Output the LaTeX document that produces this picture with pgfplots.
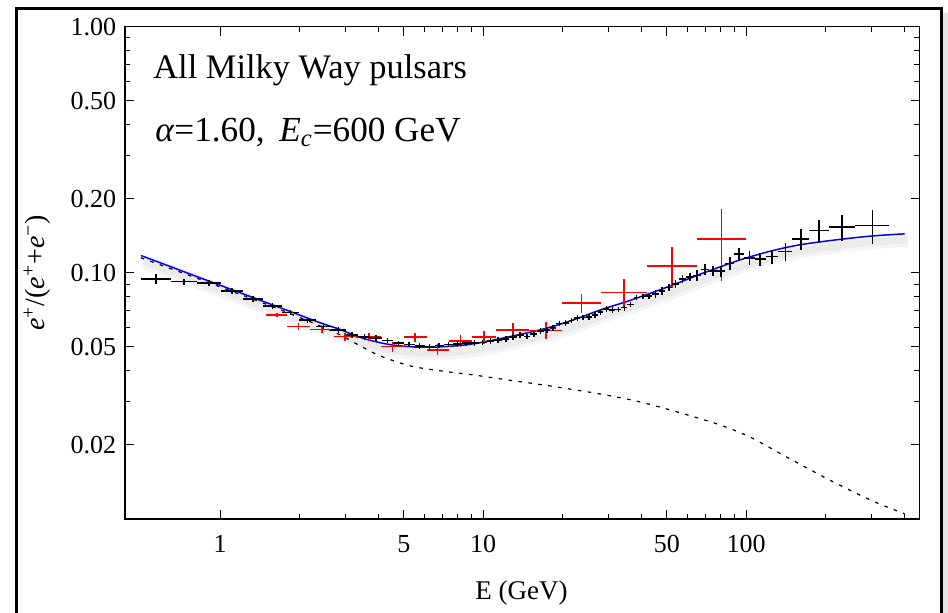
\documentclass[border=0pt]{standalone}
\usepackage{fontspec}
\setmainfont{Liberation Serif}
\usepackage{pgfplots}
\usepackage{pgfplotstable}
\pgfplotsset{compat=1.18}

% total model (secondaries + pulsars)
\pgfplotstableread{
x y
0.5 0.1176
0.645 0.1062
0.839 0.0955
1.092 0.0860
1.42 0.0774
1.846 0.0697
2.40 0.0627
2.86 0.0589
3.20 0.0560
3.72 0.0532
4.43 0.0511
5.42 0.0500
6.46 0.0499
7.83 0.0505
9.32 0.0516
11.3 0.0537
13.8 0.0562
16.5 0.0587
19.6 0.0618
23.4 0.0659
27.9 0.0707
35.3 0.0766
43.2 0.0826
52.8 0.0894
69.9 0.1005
94.9 0.1129
123 0.1223
160 0.1300
228 0.1368
304 0.1413
400 0.1440
}\total

% secondary background only
\pgfplotstableread{
x y
0.5 0.1151
0.645 0.1043
0.839 0.0941
1.092 0.0847
1.42 0.0762
1.846 0.0683
2.40 0.0609
2.86 0.0560
3.41 0.0505
4.06 0.0460
5.28 0.0419
6.86 0.0400
9.16 0.0385
11.6 0.0371
18.0 0.0347
27.9 0.0322
39.5 0.0299
56.1 0.0270
79.6 0.0241
103.6 0.0215
141.9 0.0179
205 0.0145
299 0.0119
400 0.0105
}\secondary

% PAMELA
\pgfplotstableread{
x lo hi y ey
1.643 1.5 1.8 0.0675 0.0015
1.990 1.8 2.2 0.0605 0.0019
2.437 2.2 2.7 0.0588 0.0020
2.985 2.7 3.3 0.0551 0.0021
3.683 3.3 4.1 0.0548 0.0021
4.528 4.1 5.0 0.0502 0.0024
5.523 5.0 6.1 0.0548 0.0023
6.716 6.1 7.4 0.0487 0.0025
8.206 7.4 9.1 0.0529 0.0030
10.10 9.1 11.2 0.0548 0.0035
12.96 11.2 15.0 0.0587 0.0039
17.32 15.0 20.0 0.0584 0.0046
23.66 20.0 28.0 0.0753 0.0064
34.29 28.0 42.0 0.0832 0.0115
52.25 42.0 65.0 0.1068 0.0200
80.62 65.0 100.0 0.1375 0.0450
}\pamela

% AMS-02
\pgfplotstableread{
x lo hi y ey
0.570 0.50 0.65 0.0945 0.0047
0.730 0.65 0.82 0.0922 0.0026
0.910 0.82 1.01 0.0908 0.0024
1.110 1.01 1.22 0.0845 0.0022
1.335 1.22 1.46 0.0784 0.0020
1.585 1.46 1.72 0.0734 0.0019
1.855 1.72 2.00 0.0690 0.0018
2.149 2.00 2.31 0.0644 0.0017
2.474 2.31 2.65 0.0605 0.0016
2.820 2.65 3.00 0.0587 0.0015
3.175 3.00 3.36 0.0560 0.0015
3.540 3.36 3.73 0.0549 0.0014
3.920 3.73 4.12 0.0543 0.0014
4.325 4.12 4.54 0.0532 0.0014
4.764 4.54 5.00 0.0518 0.0013
5.239 5.00 5.49 0.0511 0.0013
5.739 5.49 6.00 0.0505 0.0013
6.264 6.00 6.54 0.0502 0.0013
6.814 6.54 7.10 0.0506 0.0013
7.389 7.10 7.69 0.0511 0.0013
7.989 7.69 8.30 0.0515 0.0013
8.619 8.30 8.95 0.0518 0.0013
9.279 8.95 9.62 0.0519 0.0013
9.964 9.62 10.32 0.0522 0.0014
10.67 10.32 11.04 0.0528 0.0014
11.41 11.04 11.80 0.0533 0.0014
12.19 11.80 12.59 0.0539 0.0014
12.99 12.59 13.41 0.0548 0.0014
13.82 13.41 14.25 0.0558 0.0015
14.69 14.25 15.14 0.0552 0.0014
15.59 15.14 16.05 0.0564 0.0015
16.52 16.05 17.00 0.0580 0.0015
17.48 17.00 17.98 0.0586 0.0015
18.48 17.98 18.99 0.0596 0.0016
19.51 18.99 20.04 0.0623 0.0016
20.58 20.04 21.13 0.0625 0.0016
21.68 21.13 22.25 0.0640 0.0017
22.83 22.25 23.42 0.0656 0.0017
24.01 23.42 24.62 0.0658 0.0017
25.25 24.62 25.90 0.0661 0.0017
26.57 25.90 27.25 0.0673 0.0018
27.95 27.25 28.68 0.0693 0.0018
29.43 28.68 30.21 0.0712 0.0019
31.00 30.21 31.82 0.0707 0.0018
32.67 31.82 33.53 0.0709 0.0018
34.43 33.53 35.36 0.0722 0.0019
36.32 35.36 37.31 0.0743 0.0019
38.34 37.31 39.39 0.0795 0.0021
40.49 39.39 41.61 0.0801 0.0021
42.79 41.61 44.00 0.0803 0.0021
45.27 44.00 46.57 0.0821 0.0029
47.94 46.57 49.33 0.0846 0.0030
50.81 49.33 52.33 0.0873 0.0031
53.93 52.33 55.58 0.0902 0.0032
57.33 55.58 59.13 0.0946 0.0033
61.05 59.13 63.02 0.0960 0.0034
65.13 63.02 67.30 0.0974 0.0049
69.64 67.30 72.05 0.1030 0.0052
74.66 72.05 77.36 0.1020 0.0051
80.31 77.36 83.36 0.1015 0.0051
86.71 83.36 90.19 0.1092 0.0066
94.09 90.19 98.15 0.1190 0.0071
102.8 98.15 107.6 0.1150 0.0075
113.1 107.6 118.8 0.1137 0.0070
125.5 118.8 132.6 0.1163 0.0080
141.0 132.6 150.0 0.1221 0.0105
161.4 150.0 173.6 0.1371 0.0130
189.2 173.6 206.3 0.1486 0.0150
231.6 206.3 260.0 0.1534 0.0190
301.7 260.0 350.0 0.1557 0.0250
}\ams

\begin{document}
\begin{tikzpicture}
\useasboundingbox (-62.6pt,-47pt) rectangle (411.4pt,259.5pt);
% outer frame, open at the bottom
\fill[black!10] (408.8pt,-47pt) rectangle (411.4pt,253pt);
\draw[line width=1.3pt] (-54.35pt,-47pt) -- (-54.35pt,255.25pt) -- (408.15pt,255.25pt) -- (408.15pt,-47pt);
\begin{axis}[at={(0pt,0pt)}, anchor=south west, scale only axis,
  width=397.15pt, height=246.15pt,
  xmode=log, ymode=log, xmin=0.436, xmax=456, ymin=0.01, ymax=1,
  axis line style={line width=0.7pt},
  xtick={1,5,10,50,100}, xticklabels={1,5,10,50,100},
  minor xtick={2,3,4,6,7,8,9,20,30,40,60,70,80,90,200,300,400},
  ytick={0.02,0.05,0.1,0.2,0.5,1},
  yticklabels={0.02,0.05,0.10,0.20,0.50,1.00},
  minor ytick={0.03,0.04,0.06,0.07,0.08,0.09,0.3,0.4,0.6,0.7,0.8,0.9},
  major tick length=4.5pt, minor tick length=2.6pt,
  tick style={black, line width=0.5pt},
  ticklabel style={font=\fontsize{13}{13}\selectfont},
  yticklabel style={xshift=-1pt},
  xticklabel style={yshift=-4.5pt},
  clip=true]
  % soft shadow under the model curve
  \addplot[black, opacity=0.04, line width=7pt, xshift=1.5pt, yshift=-3pt, smooth] table {\total};
  \addplot[black, opacity=0.04, line width=3.5pt, xshift=1.5pt, yshift=-3pt, smooth] table {\total};
  \addplot[black, line width=0.6pt, dash pattern=on 1.8pt off 3.2pt, smooth] table {\secondary};
  \addplot[blue, line width=0.75pt, smooth] table {\total};
  \addplot[draw=none, mark=none,
    error bars/.cd, x dir=both, x explicit, y dir=both, y explicit,
    error mark=none, error bar style={draw=red, solid, line width=0.8pt}]
    table[x=x, y=y, x error plus expr=\thisrow{hi}-\thisrow{x},
      x error minus expr=\thisrow{x}-\thisrow{lo}, y error=ey] {\pamela};
  \addplot[draw=none, mark=none,
    error bars/.cd, x dir=both, x explicit, y dir=both, y explicit,
    error mark=none, error bar style={draw=black, solid, line width=0.8pt}]
    table[x=x, y=y, x error plus expr=\thisrow{hi}-\thisrow{x},
      x error minus expr=\thisrow{x}-\thisrow{lo}, y error=ey] {\ams};
\end{axis}
\node[anchor=base west, inner sep=0pt, font=\fontsize{17.2}{20}\selectfont] at (13.9pt,220.3pt) {All Milky Way pulsars};
\node[anchor=base west, inner sep=0pt, font=\fontsize{17.6}{20}\selectfont] at (14.9pt,188.7pt)
  {\textit{α}=1.60,\, \textit{E}\textsubscript{\textit{c}}=600 GeV};
\node[anchor=base, font=\fontsize{13.5}{14}\selectfont] at (198.2pt,-40.5pt) {E (GeV)};
\node[rotate=90, font=\fontsize{14}{14}\selectfont] at (-44pt,123pt)
  {\textit{e}\textsuperscript{+}/(\textit{e}\textsuperscript{+}+\textit{e}\textsuperscript{−})};
\end{tikzpicture}
\end{document}
